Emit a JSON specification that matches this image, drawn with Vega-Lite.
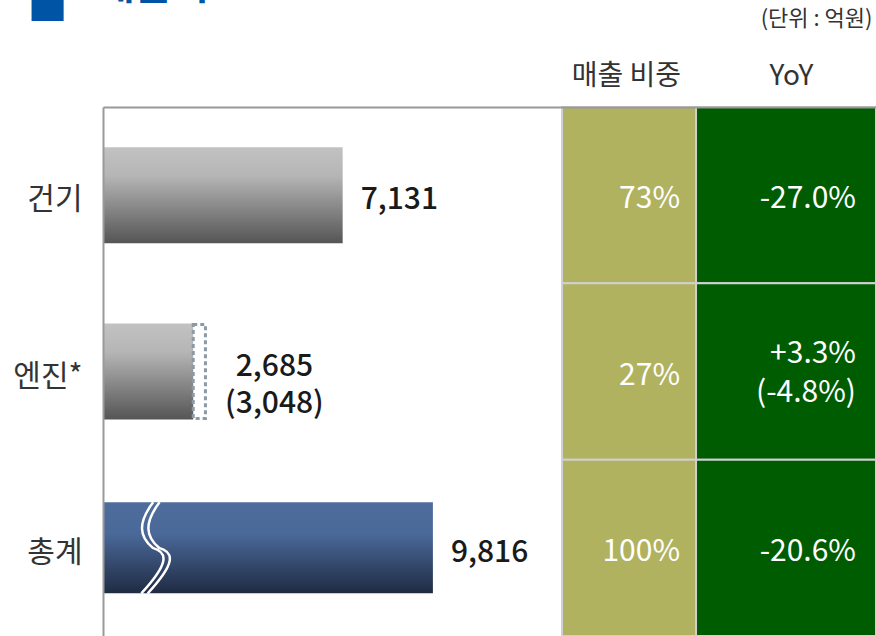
{
  "$schema": "https://vega.github.io/schema/vega-lite/v6.json",
  "width": 773,
  "height": 529,
  "autosize": {"type": "none"},
  "padding": {"left": 103, "top": 107, "right": 0, "bottom": 0},
  "background": "white",
  "config": {"view": {"stroke": null}, "font": "Noto Sans CJK KR"},
  "title": {
    "text": "매출액",
    "anchor": "start",
    "frame": "group",
    "dx": -5,
    "dy": 20,
    "offset": 0,
    "fontSize": 40,
    "fontWeight": "bold",
    "color": "#0054a6"
  },
  "data": {
    "values": [
      {"cat": "건기", "value": 7131, "label": "7,131", "share": "73%", "yoy": "-27.0%"},
      {"cat": "엔진*", "value": 2685, "prior": 3048, "label": "2,685\n(3,048)", "share": "27%", "yoy": "+3.3%\n(-4.8%)"},
      {"cat": "총계", "value": 9816, "label": "9,816", "share": "100%", "yoy": "-20.6%"}
    ]
  },
  "encoding": {
    "y": {
      "field": "cat",
      "type": "nominal",
      "sort": null,
      "scale": {"domain": ["건기", "엔진*", "총계"], "paddingInner": 0, "paddingOuter": 0},
      "axis": {
        "title": "■",
        "titleAngle": 0,
        "titleX": -76,
        "titleY": -88,
        "titleAlign": "left",
        "titleBaseline": "alphabetic",
        "titleFontSize": 40,
        "titleFontWeight": "normal",
        "titleColor": "#0054a6",
        "domainColor": "#999999",
        "domainWidth": 2,
        "ticks": false,
        "tickSize": 0,
        "labelFontSize": 30,
        "labelColor": "#333333",
        "labelPadding": 21,
        "labelOffset": 5,
        "zindex": 1
      }
    }
  },
  "layer": [
    {
      "mark": {"type": "rect", "color": "#b0b260", "stroke": "#d0d0d0", "strokeWidth": 2},
      "encoding": {
        "x": {
          "datum": 13658,
          "type": "quantitative",
          "scale": {"domain": [0, 23000], "nice": false, "zero": true},
          "axis": {
            "orient": "top",
            "domainColor": "#999999",
            "domainWidth": 2,
            "ticks": false,
            "tickSize": 0,
            "grid": false,
            "values": [15560, 20470],
            "labelExpr": "datum.value < 18000 ? '매출 비중' : 'YoY'",
            "labelFontSize": 28,
            "labelColor": "#333333",
            "labelPadding": 17,
            "labelFlush": false,
            "labelOverlap": false,
            "title": "(단위 : 억원)",
            "titleX": 769,
            "titleY": -89,
            "titleAlign": "right",
            "titleBaseline": "middle",
            "titleFontSize": 22,
            "titleFontWeight": "normal",
            "titleColor": "#333333",
            "zindex": 1
          }
        },
        "x2": {"datum": 17645}
      }
    },
    {
      "mark": {"type": "rect", "color": "#005c00", "stroke": "#d0d0d0", "strokeWidth": 2},
      "encoding": {
        "x": {"datum": 17645, "type": "quantitative"},
        "x2": {"datum": 23000}
      }
    },
    {
      "transform": [{"filter": "datum.cat !== '총계'"}],
      "mark": {
        "type": "bar",
        "size": 96,
        "color": {
          "gradient": "linear",
          "x1": 0, "y1": 0, "x2": 0, "y2": 1,
          "stops": [
            {"offset": 0, "color": "#c2c2c2"},
            {"offset": 0.3, "color": "#b5b5b5"},
            {"offset": 1, "color": "#555555"}
          ]
        }
      },
      "encoding": {"x": {"field": "value", "type": "quantitative"}}
    },
    {
      "transform": [{"filter": "datum.cat === '총계'"}],
      "mark": {
        "type": "bar",
        "size": 91,
        "color": {
          "gradient": "linear",
          "x1": 0, "y1": 0, "x2": 0, "y2": 1,
          "stops": [
            {"offset": 0, "color": "#4e6d9c"},
            {"offset": 0.35, "color": "#4a6898"},
            {"offset": 1, "color": "#202b43"}
          ]
        }
      },
      "encoding": {"x": {"field": "value", "type": "quantitative"}}
    },
    {
      "transform": [{"filter": "isValid(datum.prior)"}],
      "mark": {
        "type": "bar",
        "size": 94,
        "fillOpacity": 0,
        "stroke": "#8c9aa5",
        "strokeWidth": 3,
        "strokeDash": [4, 3]
      },
      "encoding": {
        "x": {"field": "value", "type": "quantitative"},
        "x2": {"field": "prior"}
      }
    },
    {
      "transform": [{"filter": "datum.cat === '총계'"}],
      "mark": {
        "type": "point",
        "shape": "M -0.04 -1 C -0.38 -0.55 -0.35 -0.25 -0.05 0 C 0.3 0.1 0.3 0.35 -0.3 1 M 0.1 -1 C -0.24 -0.55 -0.21 -0.25 0.09 0 C 0.44 0.1 0.44 0.35 -0.16 1",
        "size": 8281,
        "filled": false,
        "color": "white",
        "strokeWidth": 2.5,
        "opacity": 1
      },
      "encoding": {"x": {"datum": 1547, "type": "quantitative"}}
    },
    {
      "transform": [{"filter": "!isValid(datum.prior)"}],
      "mark": {"type": "text", "align": "left", "baseline": "middle", "dx": 18, "dy": 5, "fontSize": 30, "fontWeight": 500, "color": "#1a1a1a"},
      "encoding": {
        "x": {"field": "value", "type": "quantitative"},
        "text": {"field": "label"}
      }
    },
    {
      "transform": [{"filter": "isValid(datum.prior)"}],
      "mark": {"type": "text", "align": "center", "baseline": "middle", "dx": 69, "dy": -5, "fontSize": 30, "fontWeight": 500, "color": "#1a1a1a", "lineBreak": "\n", "lineHeight": 37},
      "encoding": {
        "x": {"field": "prior", "type": "quantitative"},
        "text": {"field": "label"}
      }
    },
    {
      "mark": {"type": "text", "align": "right", "baseline": "middle", "dx": -16, "dy": 4, "fontSize": 30, "fontWeight": "normal", "color": "white"},
      "encoding": {
        "x": {"datum": 17645, "type": "quantitative"},
        "text": {"field": "share"}
      }
    },
    {
      "transform": [{"filter": "!isValid(datum.prior)"}],
      "mark": {"type": "text", "align": "right", "baseline": "middle", "dx": -20, "dy": 4, "fontSize": 30, "fontWeight": "normal", "color": "white"},
      "encoding": {
        "x": {"datum": 23000, "type": "quantitative"},
        "text": {"field": "yoy"}
      }
    },
    {
      "transform": [{"filter": "isValid(datum.prior)"}],
      "mark": {"type": "text", "align": "right", "baseline": "middle", "dx": -20, "dy": -18, "fontSize": 30, "fontWeight": "normal", "color": "white", "lineBreak": "\n", "lineHeight": 39},
      "encoding": {
        "x": {"datum": 23000, "type": "quantitative"},
        "text": {"field": "yoy"}
      }
    }
  ]
}
